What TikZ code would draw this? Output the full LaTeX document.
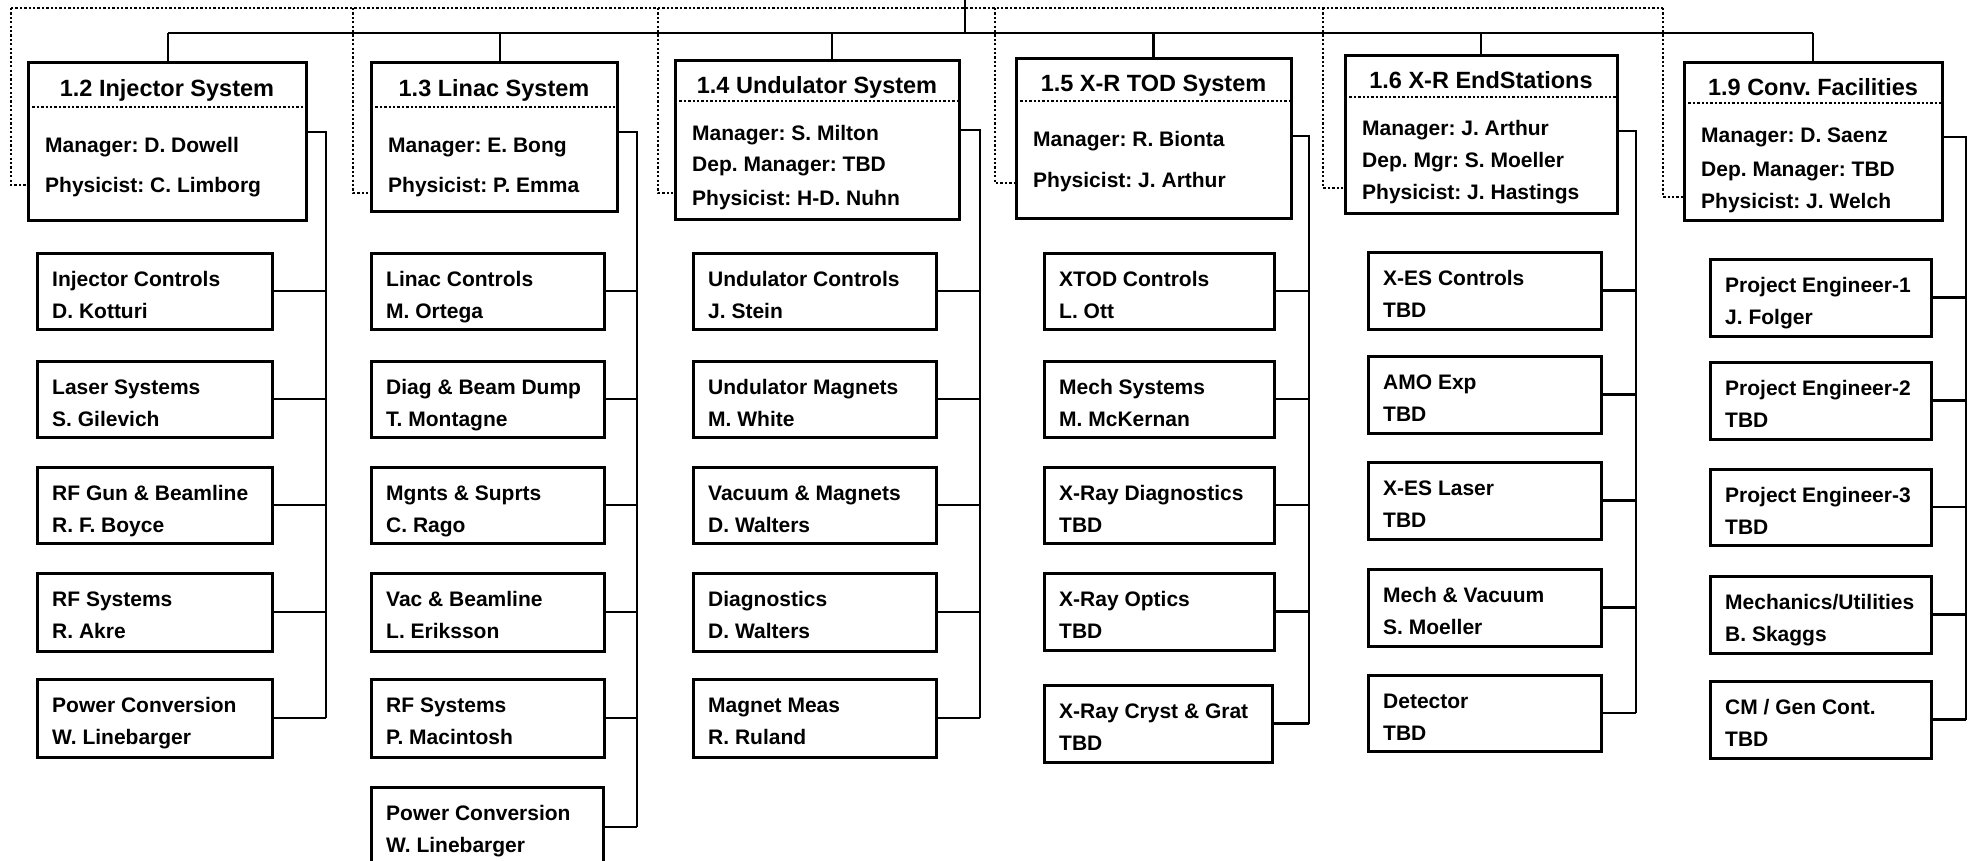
\documentclass[tikz,border=0pt]{standalone}
\usepackage{fontspec}
\setmainfont{Liberation Sans}
\usetikzlibrary{fit}
\frenchspacing
\newcommand\mkchild[7]{%
  \node[box, fit={(#2,#3) (#4,#5)}] (#1) {};
  \node[txt] (#1a) at ([xshift=15pt, yshift=-33pt]#1.north west) {#6};
  \node[txt] (#1b) at ([xshift=15pt, yshift=-65pt]#1.north west) {#7};
}
\begin{document}
\frenchspacing
\begin{tikzpicture}[x=1pt,y=-1pt,
  box/.style={draw, line width=3pt, rectangle, inner sep=0pt, outer sep=0pt},
  conn/.style={line width=2.7pt},
  dots/.style={line width=2.3pt, dash pattern=on 2.3pt off 2.1pt},
  sepline/.style={line width=2.3pt, dash pattern=on 2.3pt off 2.1pt},
  ttl/.style={font=\fontsize{23.5}{28}\selectfont\bfseries, inner sep=0pt, text height=17pt, text depth=0pt},
  txt/.style={font=\fontsize{21}{25}\selectfont\bfseries, inner sep=0pt, anchor=base west},
]
\useasboundingbox (0,0) rectangle (1969,861);

% ---------- top boxes ----------
\node[box, fit={(28,63) (306,220)}] (b12) {};
\node[ttl] (b12t) at (b12.north |- 0,88) {1.2 Injector System};
\draw[sepline] (b12.west |- 0,107) -- (b12.east |- 0,107);
\node[txt] (b12m) at ([xshift=17pt]b12.west |- 0,153) {Manager: D. Dowell};
\node[txt] (b12p) at ([xshift=17pt]b12.west |- 0,193) {Physicist: C. Limborg};

\node[box, fit={(371,63) (617,211)}] (b13) {};
\node[ttl] (b13t) at (b13.north |- 0,88) {1.3 Linac System};
\draw[sepline] (b13.west |- 0,107) -- (b13.east |- 0,107);
\node[txt] (b13m) at ([xshift=17pt]b13.west |- 0,153) {Manager: E. Bong};
\node[txt] (b13p) at ([xshift=17pt]b13.west |- 0,193) {Physicist: P. Emma};

\node[box, fit={(675,61) (959,219)}] (b14) {};
\node[ttl] (b14t) at (b14.north |- 0,85) {1.4 Undulator System};
\draw[sepline] (b14.west |- 0,101) -- (b14.east |- 0,101);
\node[txt] (b14m) at ([xshift=17pt]b14.west |- 0,141) {Manager: S. Milton};
\node[txt] (b14d) at ([xshift=17pt]b14.west |- 0,172) {Dep. Manager: TBD};
\node[txt] (b14p) at ([xshift=17pt]b14.west |- 0,205) {Physicist: H-D. Nuhn};

\node[box, fit={(1016,59) (1291,218)}] (b15) {};
\node[ttl] (b15t) at (b15.north |- 0,83) {1.5 X-R TOD System};
\draw[sepline] (b15.west |- 0,101) -- (b15.east |- 0,101);
\node[txt] (b15m) at ([xshift=17pt]b15.west |- 0,147) {Manager: R. Bionta};
\node[txt] (b15p) at ([xshift=17pt]b15.west |- 0,188) {Physicist: J. Arthur};

\node[box, fit={(1345,56) (1617,213)}] (b16) {};
\node[ttl] (b16t) at (b16.north |- 0,80) {1.6 X-R EndStations};
\draw[sepline] (b16.west |- 0,97) -- (b16.east |- 0,97);
\node[txt] (b16m) at ([xshift=17pt]b16.west |- 0,136) {Manager: J. Arthur};
\node[txt] (b16d) at ([xshift=17pt]b16.west |- 0,168) {Dep. Mgr: S. Moeller};
\node[txt] (b16p) at ([xshift=17pt]b16.west |- 0,200) {Physicist: J. Hastings};

\node[box, fit={(1684,63) (1942,220)}] (b19) {};
\node[ttl] (b19t) at (b19.north |- 0,87) {1.9 Conv. Facilities};
\draw[sepline] (b19.west |- 0,103) -- (b19.east |- 0,103);
\node[txt] (b19m) at ([xshift=17pt]b19.west |- 0,143) {Manager: D. Saenz};
\node[txt] (b19d) at ([xshift=17pt]b19.west |- 0,177) {Dep. Manager: TBD};
\node[txt] (b19p) at ([xshift=17pt]b19.west |- 0,208) {Physicist: J. Welch};

% ---------- bus ----------
\coordinate (top) at (965,0);
\coordinate (bus) at (965,33);
\draw[conn] (top) -- (bus);
\draw[conn] ([xshift=1pt]b12.north |- bus) -- (b19.north |- bus);
\draw[conn] ([xshift=1pt]b12.north |- bus) -- ([xshift=1pt]b12.north);
\draw[conn] ([xshift=6pt]b13.north |- bus) -- ([xshift=6pt]b13.north);
\draw[conn] ([xshift=15pt]b14.north |- bus) -- ([xshift=15pt]b14.north);
\draw[conn] (b15.north |- bus) -- (b15.north);
\draw[conn] (b16.north |- bus) -- (b16.north);
\draw[conn] (b19.north |- bus) -- (b19.north);

% ---------- dotted links ----------
\coordinate (dt) at (11,8);
\coordinate (d12) at (11,185);
\coordinate (d13) at (353,193);
\coordinate (d14) at (658,193);
\coordinate (d15) at (995,183);
\coordinate (d16) at (1323,188);
\coordinate (d19) at (1663,197);
\draw[dots] (dt) -- (d19 |- dt);
\draw[dots] (d12 |- dt) -- (d12) -- (d12 -| b12.west);
\draw[dots] (d13 |- dt) -- (d13) -- (d13 -| b13.west);
\draw[dots] (d14 |- dt) -- (d14) -- (d14 -| b14.west);
\draw[dots] (d15 |- dt) -- (d15) -- (d15 -| b15.west);
\draw[dots] (d16 |- dt) -- (d16) -- (d16 -| b16.west);
\draw[dots] (d19 |- dt) -- (d19) -- (d19 -| b19.west);

% ---------- children ----------
\mkchild{ic}{37}{253}{272}{329}{Injector Controls}{D. Kotturi}
\mkchild{ls}{37}{361}{272}{437}{Laser Systems}{S. Gilevich}
\mkchild{rg}{37}{467}{272}{543}{RF Gun \& Beamline}{R. F. Boyce}
\mkchild{rs}{37}{573}{272}{651}{RF Systems}{R. Akre}
\mkchild{pc}{37}{679}{272}{757}{Power Conversion}{W. Linebarger}

\mkchild{lc}{371}{253}{604}{329}{Linac Controls}{M. Ortega}
\mkchild{db}{371}{361}{604}{437}{Diag \& Beam Dump}{T. Montagne}
\mkchild{ms}{371}{467}{604}{543}{Mgnts \& Suprts}{C. Rago}
\mkchild{vb}{371}{573}{604}{651}{Vac \& Beamline}{L. Eriksson}
\mkchild{lr}{371}{679}{604}{757}{RF Systems}{P. Macintosh}
\mkchild{lp}{371}{787}{603}{867}{Power Conversion}{W. Linebarger}

\mkchild{uc}{693}{253}{936}{329}{Undulator Controls}{J. Stein}
\mkchild{um}{693}{361}{936}{437}{Undulator Magnets}{M. White}
\mkchild{vm}{693}{467}{936}{543}{Vacuum \& Magnets}{D. Walters}
\mkchild{dg}{693}{573}{936}{651}{Diagnostics}{D. Walters}
\mkchild{mm}{693}{679}{936}{757}{Magnet Meas}{R. Ruland}

\mkchild{xc}{1044}{253}{1274}{329}{XTOD Controls}{L. Ott}
\mkchild{mch}{1044}{361}{1274}{437}{Mech Systems}{M. McKernan}
\mkchild{xd}{1044}{467}{1274}{543}{X-Ray Diagnostics}{TBD}
\mkchild{xo}{1044}{573}{1274}{650}{X-Ray Optics}{TBD}
\mkchild{xg}{1044}{685}{1272}{762}{X-Ray Cryst \& Grat}{TBD}

\mkchild{ec}{1368}{252}{1601}{329}{X-ES Controls}{TBD}
\mkchild{amo}{1368}{356}{1601}{433}{AMO Exp}{TBD}
\mkchild{el}{1368}{462}{1601}{539}{X-ES Laser}{TBD}
\mkchild{mv}{1368}{569}{1601}{646}{Mech \& Vacuum}{S. Moeller}
\mkchild{det}{1368}{675}{1601}{751}{Detector}{TBD}

\mkchild{pea}{1710}{259}{1931}{336}{Project Engineer-1}{J. Folger}
\mkchild{peb}{1710}{362}{1931}{439}{Project Engineer-2}{TBD}
\mkchild{pec}{1710}{469}{1931}{545}{Project Engineer-3}{TBD}
\mkchild{mu}{1710}{576}{1931}{653}{Mechanics/Utilities}{B. Skaggs}
\mkchild{cm}{1710}{681}{1931}{758}{CM / Gen Cont.}{TBD}

% ---------- column connectors ----------
\coordinate (c12) at (326,132);
\draw[conn] (c12 -| b12.east) -- (c12) -- (c12 |- pc.east);
\foreach \n in {ic,ls,rg,rs,pc} \draw[conn] (\n.east) -- (\n.east -| c12);

\coordinate (c13) at (637,132);
\draw[conn] (c13 -| b13.east) -- (c13) -- (c13 |- lp.east);
\foreach \n in {lc,db,ms,vb,lr,lp} \draw[conn] (\n.east) -- (\n.east -| c13);

\coordinate (c14) at (980,130);
\draw[conn] (c14 -| b14.east) -- (c14) -- (c14 |- mm.east);
\foreach \n in {uc,um,vm,dg,mm} \draw[conn] (\n.east) -- (\n.east -| c14);

\coordinate (c15) at (1309,136);
\draw[conn] (c15 -| b15.east) -- (c15) -- (c15 |- xg.east);
\foreach \n in {xc,mch,xd,xo,xg} \draw[conn] (\n.east) -- (\n.east -| c15);

\coordinate (c16) at (1636,131);
\draw[conn] (c16 -| b16.east) -- (c16) -- (c16 |- det.east);
\foreach \n in {ec,amo,el,mv,det} \draw[conn] (\n.east) -- (\n.east -| c16);

\coordinate (c19) at (1966,137);
\draw[conn] (c19 -| b19.east) -- (c19) -- (c19 |- cm.east);
\foreach \n in {pea,peb,pec,mu,cm} \draw[conn] (\n.east) -- (\n.east -| c19);
\end{tikzpicture}
\end{document}
